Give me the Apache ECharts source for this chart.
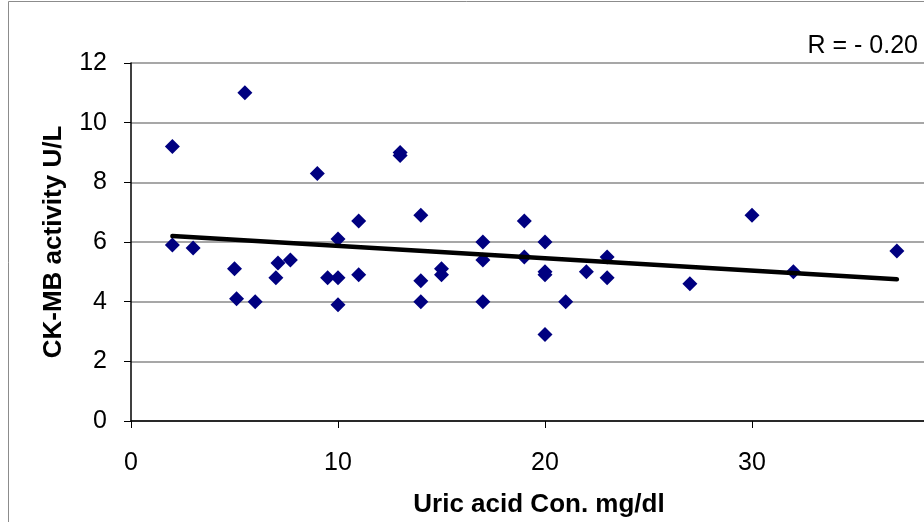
<!DOCTYPE html>
<html>
<head>
<meta charset="utf-8">
<script src="https://cdn.jsdelivr.net/npm/echarts@6/dist/echarts.min.js"></script>
<style>
  html, body { margin: 0; padding: 0; background: #ffffff; overflow: hidden; }
  #chart { width: 924px; height: 522px; }
</style>
</head>
<body>
<div id="chart"></div>
<script>
// Uric acid concentration (mg/dl) per sample
var uricAcid = [2, 2, 3, 5.5, 5, 5.1, 6, 7, 7.1, 7.7, 9, 9.5, 10, 10, 10, 11, 11, 13, 13, 14, 14, 14,
  15, 15, 17, 17, 17, 19, 19, 20, 20, 20, 20, 21, 22, 23, 23, 27, 30, 32, 37];
// CK-MB activity (U/L) per sample
var ckmb = [9.2, 5.9, 5.8, 11, 5.1, 4.1, 4.0, 4.8, 5.3, 5.4, 8.3, 4.8, 6.1, 4.8, 3.9, 6.7, 4.9, 9.0, 8.9, 6.9, 4.7, 4.0,
  5.1, 4.9, 6.0, 5.4, 4.0, 6.7, 5.5, 6.0, 5.0, 4.9, 2.9, 4.0, 5.0, 5.5, 4.8, 4.6, 6.9, 5.0, 5.7];
// Linear trend line end points
var trendX = [2, 37];
var trendY = [6.2, 4.75];
// Axis tick settings
var yTicks = [0, 2, 4, 6, 8, 10, 12];
var xTickLabels = ['0', '10', '20', '30'];
var correlationText = 'R = - 0.20';

var font = "'Liberation Sans', Arial, sans-serif";

var points = uricAcid.map(function (x, i) { return [x, ckmb[i]]; });
var trend = trendX.map(function (x, i) { return [x, trendY[i]]; });

var chart = echarts.init(document.getElementById('chart'), null, { renderer: 'canvas' });
chart.setOption({
  animation: false,
  backgroundColor: '#ffffff',
  // plot area runs past the right edge of the canvas (x max 40 falls outside)
  grid: { left: 131, top: 63, width: 828, height: 358, containLabel: false, outerBoundsMode: 'none' },
  xAxis: {
    type: 'value',
    min: 0,
    max: 40,
    interval: 10,
    axisLine: { show: true, onZero: false, lineStyle: { color: '#000000', width: 1.5 } },
    axisTick: { show: true, length: 7, lineStyle: { color: '#000000', width: 1 } },
    axisLabel: {
      margin: 30,
      fontFamily: font,
      fontSize: 25,
      color: '#000000',
      formatter: function (v) {
        var s = String(v);
        return xTickLabels.indexOf(s) >= 0 ? s : '';
      }
    },
    splitLine: { show: false }
  },
  yAxis: {
    type: 'value',
    min: yTicks[0],
    max: yTicks[yTicks.length - 1],
    interval: 2,
    axisLine: { show: true, onZero: false, lineStyle: { color: '#000000', width: 1.5 } },
    axisTick: { show: true, inside: false, length: 7, lineStyle: { color: '#000000', width: 1 } },
    axisLabel: { margin: 24, fontFamily: font, fontSize: 25, color: '#000000' },
    splitLine: { show: true, lineStyle: { color: '#8a8a8a', width: 1.5 } }
  },
  series: [
    {
      name: 'CK-MB',
      type: 'scatter',
      data: points,
      symbol: 'diamond',
      symbolSize: 15,
      itemStyle: { color: '#000080', opacity: 1 },
      z: 3
    },
    {
      name: 'Trend',
      type: 'line',
      data: trend,
      showSymbol: false,
      symbol: 'none',
      lineStyle: { color: '#000000', width: 4.5, cap: 'round' },
      z: 4
    }
  ],
  graphic: [
    {
      type: 'rect',
      shape: { x: 8.5, y: 1.5, width: 1000, height: 600 },
      style: { fill: 'none', stroke: '#8c8c8c', lineWidth: 1 },
      z: -1
    },
    {
      type: 'text',
      x: 918,
      y: 46,
      style: {
        text: correlationText,
        fontFamily: font,
        fontSize: 25,
        fill: '#000000',
        align: 'right',
        verticalAlign: 'middle'
      }
    },
    {
      type: 'text',
      x: 539,
      y: 505,
      style: {
        text: 'Uric acid Con. mg/dl',
        fontFamily: font,
        fontSize: 26,
        fontWeight: 'bold',
        fill: '#000000',
        align: 'center',
        verticalAlign: 'middle'
      }
    },
    {
      type: 'text',
      x: 54,
      y: 242,
      rotation: Math.PI / 2,
      style: {
        text: 'CK-MB activity U/L',
        fontFamily: font,
        fontSize: 26,
        fontWeight: 'bold',
        fill: '#000000',
        align: 'center',
        verticalAlign: 'middle'
      }
    }
  ]
});
</script>
</body>
</html>
